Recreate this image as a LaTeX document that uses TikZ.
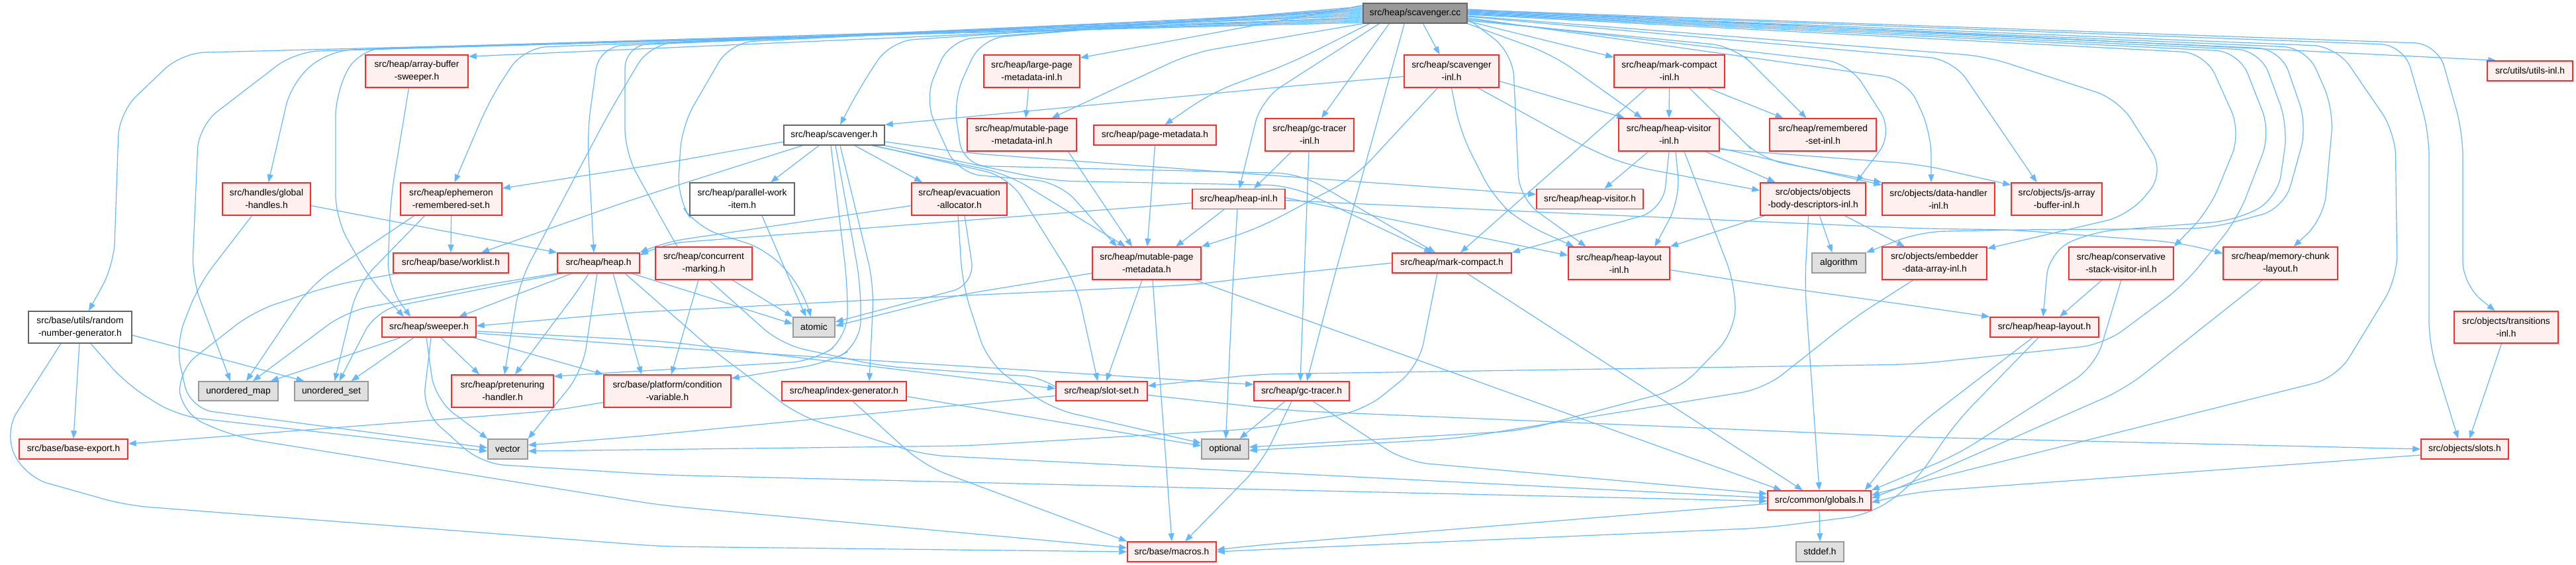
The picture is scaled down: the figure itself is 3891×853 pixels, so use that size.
\documentclass[tikz,border=0pt]{standalone}
\usepackage{fontspec}
\setmainfont{Liberation Sans}
\usetikzlibrary{arrows.meta,calc}
\definecolor{edgec}{HTML}{63B8FF}
\definecolor{redb}{HTML}{FF2A2A}
\definecolor{redf}{HTML}{FFF0F0}
\definecolor{grayb}{HTML}{999999}
\definecolor{grayf}{HTML}{E0E0E0}
\definecolor{wb}{HTML}{666666}
\definecolor{rootf}{HTML}{999999}
\pgfdeclarelayer{back}\pgfdeclarelayer{bg}\pgfsetlayers{back,bg,main}
\newcommand\nodefont{\fontsize{13.8}{19}\selectfont}
\newcommand\mynode[6]{\node[#1,minimum width=#4pt,minimum height=#5pt] (#2) at (#3) {#6};}
\tikzset{
 box/.style={draw, line width=1.5pt, inner sep=0pt, align=center, font=\nodefont},
 rn/.style={box, draw=redb, fill=redf},
 gn/.style={box, draw=grayb, fill=grayf},
 wn/.style={box, draw=wb, fill=white},
 rootn/.style={box, draw=wb, fill=rootf},
 e/.style={draw=edgec, line width=1.2pt, rounded corners=35pt, -{Triangle[length=12pt,width=9pt]}}
}
\begin{document}
\begin{tikzpicture}[x=1pt,y=-1pt]
\useasboundingbox (0,0) rectangle (3891,853);
\begin{pgfonlayer}{back}\fill[white] (0,0) rectangle (3891,853);\end{pgfonlayer}
\mynode{rootn}{root}{2137.5,20}{157}{30}{src/heap/scavenger.cc}
\mynode{rn}{abs}{629.5,107.5}{155}{49}{src/heap/array-buffer\\-sweeper.h}
\mynode{rn}{lpmi}{1558.5,107.5}{145}{49}{src/heap/large-page\\-metadata-inl.h}
\mynode{rn}{scinl}{2192.5,107.5}{143}{49}{src/heap/scavenger\\-inl.h}
\mynode{rn}{mcinl}{2521.5,107.5}{167}{49}{src/heap/mark-compact\\-inl.h}
\mynode{rn}{utils}{3821.5,107}{129}{30}{src/utils/utils-inl.h}
\mynode{wn}{sch}{1260,204}{152}{30}{src/heap/scavenger.h}
\mynode{rn}{mpmi}{1543.5,203.5}{165}{49}{src/heap/mutable-page\\-metadata-inl.h}
\mynode{rn}{pm}{1744.5,204}{185}{30}{src/heap/page-metadata.h}
\mynode{rn}{gctinl}{1978,203.5}{134}{49}{src/heap/gc-tracer\\-inl.h}
\mynode{rn}{hvinl}{2521,203.5}{152}{49}{src/heap/heap-visitor\\-inl.h}
\mynode{rn}{rsinl}{2753.5,203.5}{161}{49}{src/heap/remembered\\-set-inl.h}
\mynode{rn}{gh}{402.5,300.5}{133}{49}{src/handles/global\\-handles.h}
\mynode{rn}{ers}{681.5,300.5}{153}{49}{src/heap/ephemeron\\-remembered-set.h}
\mynode{wn}{pwi}{1121,300.5}{158}{49}{src/heap/parallel-work\\-item.h}
\mynode{rn}{ea}{1449,300.5}{144}{49}{src/heap/evacuation\\-allocator.h}
\mynode{rn}{hinl}{1871,300.5}{140}{30}{src/heap/heap-inl.h}
\mynode{rn}{hv}{2401.5,300.5}{161}{30}{src/heap/heap-visitor.h}
\mynode{rn}{obd}{2738.5,300.5}{159}{49}{src/objects/objects\\-body-descriptors-inl.h}
\mynode{rn}{dhi}{2928,300.5}{170}{49}{src/objects/data-handler\\-inl.h}
\mynode{rn}{jabi}{3106.5,300.5}{137}{49}{src/objects/js-array\\-buffer-inl.h}
\mynode{rn}{wl}{681,397}{174}{30}{src/heap/base/worklist.h}
\mynode{rn}{heap}{904,397}{124}{30}{src/heap/heap.h}
\mynode{rn}{cm}{1063,397.5}{146}{49}{src/heap/concurrent\\-marking.h}
\mynode{rn}{mpm}{1732,397.5}{164}{49}{src/heap/mutable-page\\-metadata.h}
\mynode{rn}{mc}{2193,397}{180}{30}{src/heap/mark-compact.h}
\mynode{rn}{hli}{2445.5,397.5}{153}{49}{src/heap/heap-layout\\-inl.h}
\mynode{gn}{algo}{2777.5,397}{81}{30}{algorithm}
\mynode{rn}{edai}{2922,397.5}{158}{49}{src/objects/embedder\\-data-array-inl.h}
\mynode{rn}{csvi}{3204,397.5}{158}{49}{src/heap/conservative\\-stack-visitor-inl.h}
\mynode{rn}{mcl}{3444.5,397.5}{173}{49}{src/heap/memory-chunk\\-layout.h}
\mynode{wn}{rng}{121,494}{156}{48}{src/base/utils/random\\-number-generator.h}
\mynode{rn}{sw}{648,494}{142}{30}{src/heap/sweeper.h}
\mynode{gn}{atomic}{1229.5,494}{63}{30}{atomic}
\mynode{rn}{hl}{3088,494}{164}{30}{src/heap/heap-layout.h}
\mynode{rn}{tri}{3785.5,494}{157}{48}{src/objects/transitions\\-inl.h}
\mynode{gn}{umap}{360,590.5}{120}{29}{unordered\_map}
\mynode{gn}{uset}{500.5,590.5}{111}{29}{unordered\_set}
\mynode{rn}{ph}{759,590.5}{154}{49}{src/heap/pretenuring\\-handler.h}
\mynode{rn}{cv}{1008,590.5}{192}{49}{src/base/platform/condition\\-variable.h}
\mynode{rn}{ig}{1275,590.5}{188}{29}{src/heap/index-generator.h}
\mynode{rn}{ss}{1664,590.5}{138}{29}{src/heap/slot-set.h}
\mynode{rn}{gct}{1966,590.5}{144}{29}{src/heap/gc-tracer.h}
\mynode{rn}{be}{111,678}{164}{30}{src/base/base-export.h}
\mynode{gn}{vec}{767,678}{60}{30}{vector}
\mynode{gn}{opt}{1850.5,678}{71}{30}{optional}
\mynode{rn}{slots}{3723,678}{132}{30}{src/objects/slots.h}
\mynode{rn}{glob}{2748,755.5}{156}{29}{src/common/globals.h}
\mynode{rn}{macros}{1770,833}{134}{30}{src/base/macros.h}
\mynode{gn}{stddef}{2749,833}{72}{30}{stddef.h}
\begin{pgfonlayer}{bg}
% root, left fan
\draw[e] ([yshift=-14pt]root.west) -- (274,80) -- (180,170) -- (172,400) -- ([xshift=13pt]rng.north);
\draw[e] ([yshift=-12pt]root.west) -- (446,78) -- (300,190) -- (290,420) -- ([xshift=-12pt]umap.north);
\draw[e] ([yshift=-10pt]root.west) -- (497,76) -- (440,125) -- ([xshift=3pt]gh.north);
\draw[e] ([yshift=-8pt]root.west) -- (542,74) -- (507,140) -- (507,330) -- (561,425) -- ([xshift=-38pt]sw.north);
\draw[e] ([yshift=-6pt]root.west) -- ([yshift=-3pt]abs.north east);
\draw[e] ([yshift=-4pt]root.west) -- (791,72) -- (740,150) -- ([xshift=5pt]ers.north);
\draw[e] ([yshift=-2pt]root.west) -- (905,70) -- (887,200) -- ([xshift=-7pt]heap.north);
\draw[e] (root.west) -- (944,68) -- (944,230) -- (1010,350) -- ([xshift=-40pt]cm.north);
\draw[e] ([yshift=2pt]root.west) -- (982,66) -- (920,170) -- (785,425) -- ([xshift=3pt]ph.north);
\draw[e] ([yshift=4pt]root.west) -- (1103,64) -- (1030,190) -- (1023,300) -- (1052,343) -- (1160,377) -- (1215,440) -- ([xshift=-5pt]atomic.north);
\draw[e] ([yshift=6pt]root.west) -- (1345,62) -- (1300,130) -- ([xshift=9pt]sch.north);
\draw[e] ([yshift=8pt]root.west) -- (1435,60) -- (1396,150) -- (1447,262) -- (1600,275) -- ([xshift=-45pt]mpm.north);
\draw[e] ([yshift=10pt]root.west) -- (1482,58) -- (1440,150) -- (1455,250) -- (1964,262) -- ([xshift=-25pt]mc.north);
\draw[e] ([yshift=12pt]root.west) -- ([yshift=-5pt]lpmi.north east);
% root, bottom
\draw[e] (root.south west) -- (1800,80) -- ([xshift=45pt]mpmi.north);
\draw[e] ([xshift=10pt]root.south west) -- (1950,95) -- (1830,140) -- ([xshift=15pt]pm.north);
\draw[e] ([xshift=25pt]root.south west) -- (1905,150) -- ([xshift=1pt]hinl.north);
\draw[e] ([xshift=40pt]root.south west) -- ([xshift=18pt]gctinl.north);
\draw[e] ([xshift=63pt]root.south west) -- (2012,430) -- ([xshift=8pt]gct.north);
\draw[e] ([xshift=12pt]root.south) -- ([xshift=-18pt]scinl.north);
\draw[e] (root.south east) -- (2346,83) -- ([xshift=-41pt]hvinl.north);
% root, right fan
\draw[e] ([yshift=-12pt]root.east) -- ([yshift=-4pt]mcinl.north west);
\draw[e] ([yshift=-8pt]root.east) -- (2285,80) -- (2295,300) -- ([xshift=-50pt]hli.north);
\draw[e] ([yshift=-11pt]root.east) -- (2620,70) -- (2660,110) -- ([xshift=-25pt]rsinl.north);
\draw[e] ([yshift=-9pt]root.east) -- (2793,95) -- (2860,200) -- ([xshift=65pt]obd.north);
\draw[e] ([yshift=-7pt]root.east) -- (2880,120) -- (2917,200) -- ([xshift=-11pt]dhi.north);
\draw[e] ([yshift=-5pt]root.east) -- (2950,90) -- ([xshift=-30pt]jabi.north);
\draw[e] ([yshift=-4pt]root.east) -- (3000,85) -- (3200,150) -- (3270,260) -- (3216,325) -- ([yshift=-3pt]edai.north east);
\draw[e] ([yshift=-2pt]root.east) -- (3331,80) -- (3385,200) -- (3337,317) -- (csvi.north east);
\draw[e] ([yshift=-1pt]root.east) -- (3382,78) -- (3430,200) -- (3380,330) -- (3299,430) -- (3178,520) -- (2891,550) -- (1900,565) -- ([yshift=8pt]ss.east);
\draw[e] (root.east) -- (3414,76) -- (3456,190) -- (3440,300) -- (3376,333) -- (3160,350) -- (3095,380) -- ([xshift=-2pt]hl.north);
\draw[e] ([yshift=1pt]root.east) -- (3445,74) -- (3485,190) -- (3450,315) -- (3337,345) -- (3040,347) -- (2900,350) -- (algo.north east);
\draw[e] ([yshift=2pt]root.east) -- (3484,72) -- (3525,165) -- (3510,330) -- ([xshift=20pt]mcl.north);
\draw[e] ([yshift=3pt]root.east) -- (3529,70) -- (3618,200) -- (3621,420) -- (3530,570) -- (2891,730) -- ([yshift=8pt]glob.east);
\draw[e] ([yshift=4pt]root.east) -- (3631,68) -- (3669,200) -- (3669,520) -- ([xshift=-10pt]slots.north);
\draw[e] ([yshift=5pt]root.east) -- (3682,66) -- (3720,200) -- (3720,430) -- ([xshift=-17pt]tri.north);
\draw[e] ([yshift=6pt]root.east) -- ([xshift=14pt]utils.north west);
% left part
\draw[e] ([xshift=-12pt]abs.south) -- (590,300) -- (585,430) -- ([xshift=-28pt]sw.north);
\draw[e] ([yshift=-10pt]gh.east) -- (heap.north west);
\draw[e] ([xshift=-22pt]gh.south) -- (300,430) -- (265,520) -- (287,617) -- ([yshift=2pt]vec.west);
\draw[e] (ers.south) -- (wl.north);
\draw[e] ([xshift=-56pt]ers.south) -- (470,430) -- ([xshift=12pt]umap.north);
\draw[e] ([xshift=-40pt]ers.south) -- (540,430) -- ([xshift=5pt]uset.north);
\draw[e] ([xshift=-80pt]wl.south) -- (504,430) -- (383,470) -- (268,560) -- (275,625) -- (357,660) -- (1000,763) -- ([yshift=6pt]macros.west);
\draw[e] ([xshift=-40pt]heap.south) -- ([xshift=45pt]sw.north);
\draw[e] (heap.south west) -- (733,430) -- (523,470) -- ([xshift=22pt]umap.north);
\draw[e] ([xshift=-55pt]heap.south) -- (784,425) -- (568,468) -- ([xshift=12pt]uset.north);
\draw[e] ([xshift=-14pt]heap.south) -- (883,425) -- ([xshift=19pt]ph.north);
\draw[e] ([xshift=-2pt]heap.south) -- (880,560) -- (vec.north east);
\draw[e] ([xshift=22pt]heap.south) -- ([xshift=-39pt]cv.north);
\draw[e] ([xshift=50pt]heap.south) -- ([yshift=5pt]atomic.west);
\draw[e] ([xshift=40pt]heap.south) -- (1078,530) -- (1129,567) -- (1205,627) -- (1396,687) -- (1950,715) -- ([yshift=4pt]glob.west);
\draw[e] ([xshift=43pt]cm.south) -- (atomic.north west);
\draw[e] ([xshift=-8pt]cm.south) -- ([xshift=6pt]cv.north);
\draw[e] ([xshift=8pt]cm.south) -- (1180,520) -- (1333,553) -- (1582,570) -- ([yshift=9pt]ss.west);
% scavenger.h
\draw[e] ([yshift=-10pt]sch.west) -- (1000,247) -- ([yshift=-9pt]ers.north east);
\draw[e] ([xshift=-48pt]sch.south) -- (950,303) -- ([xshift=46pt]wl.north);
\draw[e] ([xshift=-23pt]sch.south) -- ([xshift=43pt]pwi.north);
\draw[e] ([xshift=2pt]sch.south) -- (1300,430) -- (1300,520) -- (1250,548) -- ([yshift=-6pt]cv.north east);
\draw[e] ([xshift=-5pt]sch.south) -- (1280,430) -- (1280,510) -- (1230,545) -- (918,563) -- ([yshift=-3pt]ph.north east);
\draw[e] ([xshift=9pt]sch.south) -- (1320,430) -- ([xshift=38pt]ig.north);
\draw[e] ([xshift=31pt]sch.south) -- ([xshift=-56pt]ea.north);
\draw[e] ([xshift=57pt]sch.south) -- (1520,262) -- ([xshift=-32pt]mpm.north);
\draw[e] ([xshift=60pt]sch.south) -- (1524,267) -- (1626,430) -- ([xshift=-6pt]ss.north);
\draw[e] ([yshift=-10pt]sch.east) -- (1461,231) -- (1950,267) -- ([yshift=7pt]hv.west);
\draw[e] (sch.south east) -- (1588,273) -- (1950,280) -- ([xshift=-30pt]mc.north);
% scavenger-inl, mark-compact-inl, heap-visitor-inl
\draw[e] ([yshift=-8pt]scinl.west) -- (1950,130) -- (sch.north east);
\draw[e] ([xshift=-21pt]scinl.south) -- (2047,267) -- (1900,345) -- (mpm.north east);
\draw[e] (scinl.south) -- (2206,200) -- (2257,300) -- (2300,337) -- ([xshift=-68pt]hli.north);
\draw[e] ([xshift=40pt]scinl.south) -- (2400,225) -- (2460,250) -- ([yshift=13pt]obd.west);
\draw[e] ([yshift=-15pt]scinl.east) -- ([xshift=10pt]hvinl.north west);
\draw[e] ([xshift=-34pt]mcinl.south) -- ([xshift=13pt]mc.north);
\draw[e] (mcinl.south) -- (hvinl.north);
\draw[e] ([xshift=58pt]mcinl.south) -- ([xshift=-60pt]rsinl.north);
\draw[e] ([xshift=30pt]mcinl.south) -- (2620,200) -- (2660,240) -- (dhi.north west);
\draw[e] ([xshift=-31pt]hvinl.south) -- ([xshift=22pt]hv.north);
\draw[e] ([xshift=55pt]hvinl.south) -- ([xshift=-57pt]obd.north);
\draw[e] ([xshift=10pt]hvinl.south) -- (2538,300) -- ([xshift=54pt]hli.north);
\draw[e] (hvinl.south) -- (2512,317) -- (mc.north east);
\draw[e] ([xshift=23pt]hvinl.south) -- (2621,430) -- (2621,500) -- (2538,587) -- (2300,650) -- ([yshift=3pt]opt.east);
\draw[e] ([yshift=-20pt]hvinl.east) -- ([yshift=-4pt]dhi.north west);
\draw[e] ([yshift=-22pt]hvinl.east) -- (2900,248) -- ([yshift=-4pt]jabi.north west);
% gc-tracer-inl, heap-inl
\draw[e] ([xshift=-27pt]gctinl.south) -- ([xshift=23pt]hinl.north);
\draw[e] ([xshift=-1pt]gctinl.south) -- ([xshift=-2pt]gct.north);
\draw[e] ([yshift=-6pt]hinl.west) -- (1000,368) -- ([yshift=-4pt]heap.north east);
\draw[e] ([yshift=-10pt]ea.west) -- (1000,366) -- (heap.north east);
\draw[e] ([xshift=-22pt]hinl.south) -- ([xshift=44pt]mpm.north);
\draw[e] ([xshift=-2pt]hinl.south) -- (1862,430) -- ([xshift=1pt]opt.north);
\draw[e] ([yshift=2pt]hinl.east) -- ([yshift=12pt]hli.west);
\draw[e] ([yshift=-2pt]hinl.east) -- (2321,320) -- (2900,345) -- (3040,347) -- (3290,366) -- ([yshift=15pt]mcl.west);
% objects-body-descriptors
\draw[e] ([xshift=-73pt]obd.south) -- (hli.north east);
\draw[e] ([xshift=10pt]obd.south) -- ([xshift=-10pt]algo.north);
\draw[e] ([xshift=48pt]obd.south) -- ([xshift=-45pt]edai.north);
\draw[e] ([xshift=-7pt]obd.south) -- (2726,430) -- (glob.north);
% mark-compact.h
\draw[e] (mc.west) -- (1900,418) -- (1800,430) -- (1333,452) -- (950,472) -- ([yshift=2pt]sw.east);
\draw[e] ([xshift=-22pt]mc.south) -- (2143,553) -- (2060,620) -- (1900,647) -- (1460,673) -- ([yshift=-3pt]vec.east);
\draw[e] ([xshift=23pt]mc.south) -- ([xshift=-25pt]glob.north);
% heap-layout etc.
\draw[e] ([yshift=-10pt]hli.east) -- (2665,430) -- (2900,463) -- (hl.north west);
\draw[e] ([xshift=-29pt]csvi.south) -- ([xshift=23pt]hl.north);
\draw[e] (csvi.south) -- (3165,553) -- (2955,687) -- (glob.north east);
\draw[e] ([xshift=-27pt]mcl.south) -- (3210,587) -- (2891,727) -- ([yshift=3pt]glob.east);
\draw[e] ([xshift=-18pt]hl.south) -- (2891,647) -- ([xshift=-10pt]glob.north east);
\draw[e] ([xshift=-9pt]hl.south) -- (2955,637) -- (2891,730) -- (2825,777) -- (2665,797) -- (1900,830) -- (macros.east);
\draw[e] (glob.south) -- (stddef.north);
\draw[e] ([yshift=-5pt]glob.west) -- (1900,823) -- ([yshift=3pt]macros.east);
\draw[e] ([xshift=-7pt]tri.south) -- ([xshift=7pt]slots.north);
\draw[e] ([yshift=-9pt]slots.west) -- (2891,743) -- ([yshift=-3pt]glob.east);
\draw[e] ([xshift=-32pt]edai.south) -- (2800,480) -- (2665,587) -- (2200,662) -- ([yshift=-2pt]opt.east);
% slot-set, gc-tracer, index-generator
\draw[e] ([yshift=-6pt]ss.east) -- (1950,620) -- (2900,660) -- (slots.west);
\draw[e] ([yshift=-7pt]ss.west) -- (950,660) -- ([yshift=6pt]vec.east);
\draw[e] ([xshift=17pt]gct.south) -- (2123,697) -- ([yshift=10pt]glob.west);
\draw[e] ([xshift=-25pt]gct.south) -- ([xshift=22pt]opt.north);
\draw[e] ([xshift=-15pt]gct.south) -- (1905,700) -- ([xshift=20pt]macros.north);
\draw[e] ([yshift=-8pt]ig.east) -- ([yshift=5pt]opt.west);
\draw[e] ([xshift=13pt]ig.south) -- (1396,703) -- (macros.north west);
\draw[e] ([yshift=-17pt]cv.west) -- (836,620) -- ([yshift=8pt]be.east);
% random-number-generator
\draw[e] ([xshift=-1pt]rng.south) -- (be.north);
\draw[e] ([yshift=-12pt]rng.east) -- ([xshift=-41pt]uset.north);
\draw[e] ([xshift=16pt]rng.south) -- (191,580) -- (268,628) -- ([yshift=-3pt]vec.west);
\draw[e] ([xshift=-29pt]rng.south) -- (6,653) -- (38,720) -- (191,763) -- (1000,825) -- (macros.west);
% parallel-work-item, evacuation-allocator, mutable-page-metadata
\draw[e] ([xshift=30pt]pwi.south) -- (1196,430) -- ([xshift=-12pt]atomic.north);
\draw[e] ([xshift=8pt]ea.south) -- (1473,430) -- ([yshift=8pt]atomic.east);
\draw[e] ([yshift=-15pt]mpm.west) -- (1450,445) -- ([yshift=2pt]atomic.east);
\draw[e] ([xshift=-2pt]ea.south) -- (1454,430) -- (1492,547) -- (1588,617) -- ([yshift=9pt]opt.west);
\draw[e] ([xshift=-7pt]mpm.south) -- ([xshift=7pt]ss.north);
\draw[e] ([xshift=9pt]mpm.south) -- (macros.north);
\draw[e] ([xshift=73pt]mpm.south) -- (1950,475) -- ([xshift=-57pt]glob.north);
\draw[e] ([xshift=70pt]mpmi.south) -- ([xshift=-22pt]mpm.north);
\draw[e] ([xshift=-5pt]lpmi.south) -- ([xshift=6pt]mpmi.north);
\draw[e] (pm.south) -- ([xshift=1pt]mpm.north);
% sweeper.h
\draw[e] ([xshift=-43pt]sw.south) -- ([xshift=-12pt]umap.north east);
\draw[e] ([xshift=-23pt]sw.south) -- ([xshift=30pt]uset.north);
\draw[e] ([xshift=18pt]sw.south) -- ([xshift=-35pt]ph.north);
\draw[e] ([xshift=-5pt]sw.south east) -- (cv.north west);
\draw[e] ([xshift=-4pt]sw.south) -- (657,603) -- (vec.north west);
\draw[e] ([xshift=3pt]sw.south) -- (638,620) -- (727,700) -- (1000,717) -- (1950,740) -- ([yshift=-1pt]glob.west);
\draw[e] ([yshift=-6pt]sw.east) -- (1000,515) -- ([yshift=4pt]ss.west);
\draw[e] ([yshift=-9pt]sw.east) -- (1000,524) -- ([yshift=10pt]gct.west);
\end{pgfonlayer}
\end{tikzpicture}
\end{document}
